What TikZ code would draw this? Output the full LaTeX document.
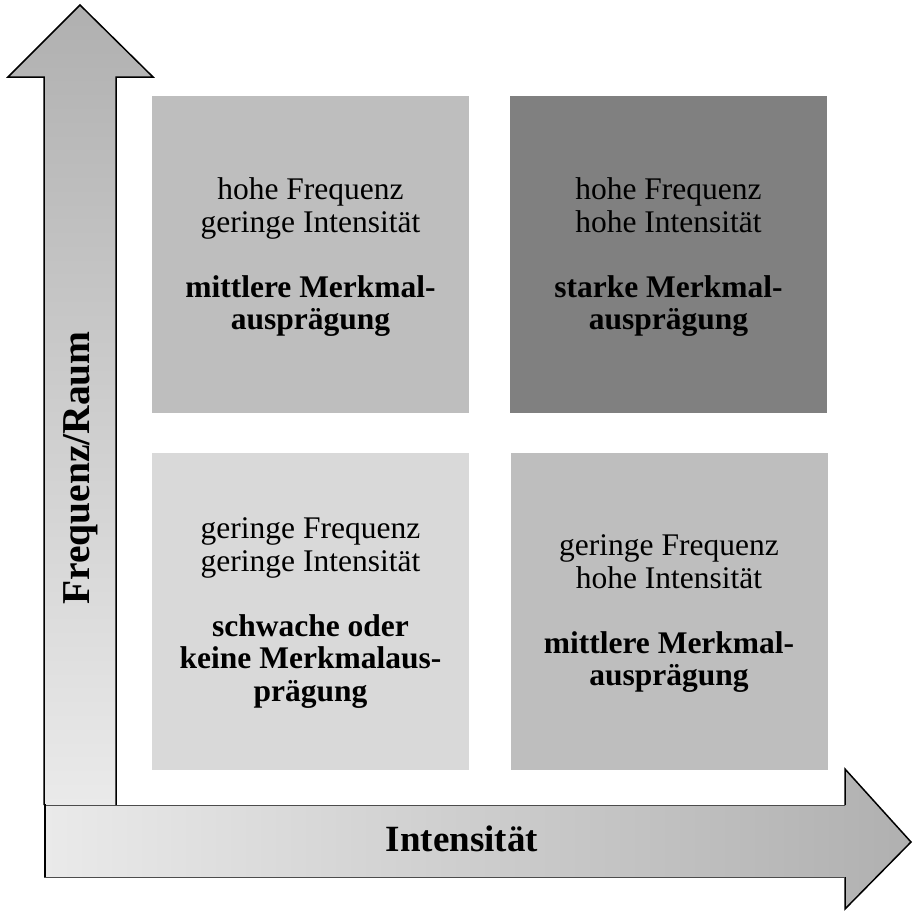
\documentclass[tikz,border=0pt]{standalone}
\usepackage{fontspec}
\setmainfont{Liberation Serif}
\definecolor{adark}{RGB}{176,176,176}
\definecolor{alight}{RGB}{234,234,234}
\definecolor{qlight}{RGB}{217,217,217}
\definecolor{qmid}{RGB}{190,190,190}
\definecolor{qdark}{RGB}{128,128,128}
\begin{document}
\begin{tikzpicture}[x=1pt,y=-1pt,
  quad/.style={inner sep=0pt, minimum width=317pt, minimum height=317pt},
  quadtext/.style={inner sep=0pt, align=center, font=\fontsize{31.5}{32.5}\selectfont},
  axislabel/.style={inner sep=0pt, font=\fontsize{37}{40}\selectfont\bfseries},
  outline/.style={line width=1.5pt, line join=miter}]
\useasboundingbox (0,0) rectangle (913,911);
% vertical arrow
\shade[top color=adark, bottom color=alight] (44,805) -- (44,77) -- (8,77) -- (80,5) -- (153,77) -- (116,77) -- (116,805) -- cycle;
\draw[outline] (44,805) -- (44,77) -- (8,77) -- (80,5) -- (153,77) -- (116,77) -- (116,805);
% horizontal arrow
\shade[left color=alight, right color=adark] (44,805) -- (845,805) -- (845,769) -- (911,842) -- (845,909) -- (845,877) -- (44,877) -- cycle;
\draw[outline] (845,805) -- (845,769) -- (911,842) -- (845,909) -- (845,877);
\draw[outline, gray!60!black, line width=1pt] (44,805) -- (845,805) (44,877) -- (845,877);
\draw[outline, line width=2pt] (45,804) -- (45,877);
% quadrants
\node[quad, fill=qmid] (hfgi) at (310.5,254.5) {};
\node[quad, fill=qdark] (hfhi) at (668.5,254.5) {};
\node[quad, fill=qlight] (gfgi) at (310.5,611) {};
\node[quad, fill=qmid] (gfhi) at (669,611) {};
\node[quadtext] (thfgi) at ([yshift=-3pt]hfgi.center) {hohe Frequenz\\geringe Intensität\\[32.5pt]\textbf{mittlere Merkmal-}\\\textbf{ausprägung}};
\node[quadtext] (thfhi) at ([yshift=-3pt]hfhi.center) {hohe Frequenz\\hohe Intensität\\[32.5pt]\textbf{starke Merkmal-}\\\textbf{ausprägung}};
\node[quadtext] (tgfgi) at ([yshift=-2pt]gfgi.center) {geringe Frequenz\\geringe Intensität\\[32.5pt]\textbf{schwache oder}\\\textbf{keine Merkmalaus-}\\\textbf{prägung}};
\node[quadtext] (tgfhi) at ([yshift=-3pt]gfhi.center) {geringe Frequenz\\hohe Intensität\\[32.5pt]\textbf{mittlere Merkmal-}\\\textbf{ausprägung}};
% axis labels
\node[axislabel, font=\fontsize{39.5}{42}\selectfont\bfseries, rotate=90] (ylab) at (81,468) {Frequenz/Raum};
\node[axislabel] (xlab) at (462,839) {Intensität};
\end{tikzpicture}
\end{document}
